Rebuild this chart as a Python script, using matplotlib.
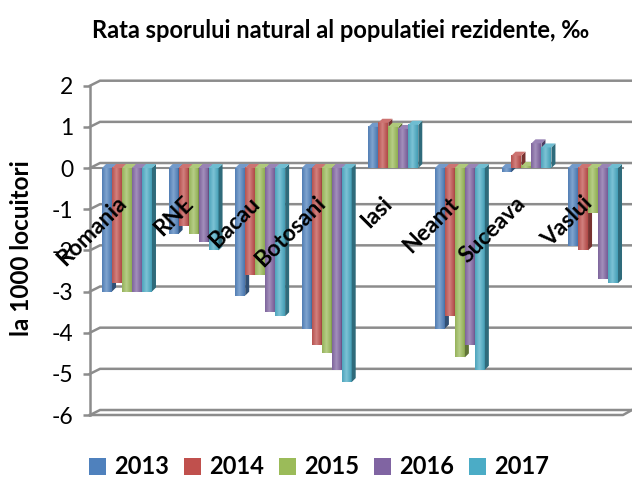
import numpy as np
import matplotlib
matplotlib.use("Agg")
import matplotlib.pyplot as plt
from matplotlib.patches import Polygon, Patch
from matplotlib.colors import to_rgb

plt.rcParams['font.family'] = ['Lato', 'DejaVu Sans']

title = "Rata sporului natural al populatiei rezidente, ‰"
ylabel = "la 1000 locuitori"
categories = ["Romania", "RNE", "Bacau", "Botosani", "Iasi", "Neamt", "Suceava", "Vaslui"]
years = ["2013", "2014", "2015", "2016", "2017"]
v2013 = [-3.0, -1.6, -3.1, -3.9, 1.0, -3.9, -0.1, -1.9]
v2014 = [-2.8, -1.4, -2.6, -4.3, 1.1, -3.6, 0.3, -2.0]
v2015 = [-3.0, -1.6, -2.6, -4.5, 1.0, -4.6, 0.05, -1.1]
v2016 = [-3.0, -1.8, -3.5, -4.9, 0.95, -4.3, 0.6, -2.7]
v2017 = [-3.0, -2.0, -3.6, -5.2, 1.05, -4.9, 0.5, -2.8]
series = [v2013, v2014, v2015, v2016, v2017]
colors = ["#4F81BD", "#C0504D", "#9BBB59", "#8064A2", "#4BACC6"]
yticks = [2, 1, 0, -1, -2, -3, -4, -5, -6]

W, H = 632, 482
fig = plt.figure(figsize=(W / 100, H / 100), dpi=100)
px_left, px_right, px_top, px_bot = 90, 623, 85.7, 415
ax = fig.add_axes([px_left / W, 1 - px_bot / H, (px_right - px_left) / W, (px_bot - px_top) / H])

xl, xr = -0.556, 7.45
yb, yt = -6, 2
ppx = (px_right - px_left) / (xr - xl)
ppy = (px_bot - px_top) / (yt - yb)

grid_c = "#8c8c8c"
gdx, gdy = 10 / ppx, 5 / ppy
x_far = xr + 9 / ppx
for t in yticks:
    ax.plot([xl, xl + gdx, x_far], [t, t + gdy, t + gdy], color=grid_c, lw=1.8,
            zorder=1, clip_on=False, solid_joinstyle='miter')
ax.plot([xl, xr, x_far], [yb, yb, yb + gdy], color=grid_c, lw=1.8, zorder=1, clip_on=False)
ax.plot([xl, xr], [0, 0], color=grid_c, lw=1.5, zorder=2, clip_on=False)

bw = 0.15
bdx, bdy = 4 / ppx, 4 / ppy

def shade(c, f):
    r = np.array(to_rgb(c))
    return tuple(np.clip(r * f, 0, 1))

def lighten(c, f):
    r = np.array(to_rgb(c))
    return tuple(r + (1 - r) * f)

z = 3
for i in range(len(categories)):
    for j, vals in enumerate(series):
        v = vals[i]
        x0 = i + (j - 2) * bw - bw / 2
        x1 = x0 + bw
        lo, hi = min(0, v), max(0, v)
        base = colors[j]
        n = 32
        t = np.linspace(0, 1, n)
        prof = 1 - np.abs(t - 0.45) / 0.55
        img = np.zeros((1, n, 3))
        for k in range(n):
            img[0, k] = np.array(lighten(base, 0.28 * prof[k])) * (0.92 + 0.08 * prof[k])
        ax.imshow(img, extent=(x0, x1, lo, hi), aspect='auto', zorder=z, interpolation='bilinear')
        side = Polygon([(x1, lo), (x1, hi), (x1 + bdx, hi + bdy), (x1 + bdx, lo + bdy)],
                       closed=True, facecolor=shade(base, 0.62), edgecolor='none', zorder=z)
        ax.add_patch(side)
        top = Polygon([(x0, hi), (x1, hi), (x1 + bdx, hi + bdy), (x0 + bdx, hi + bdy)],
                      closed=True, facecolor=lighten(base, 0.2), edgecolor='none', zorder=z)
        ax.add_patch(top)
        z += 1

for i, c in enumerate(categories):
    ax.text(i + 0.05, -0.6, c, rotation=45, ha='right', va='top', fontsize=16.5,
            fontweight='bold', zorder=200)

ax.set_xlim(xl, xr)
ax.set_ylim(yb, yt)
for s in ['top', 'right', 'bottom']:
    ax.spines[s].set_visible(False)
ax.spines['left'].set_color(grid_c)
ax.spines['left'].set_linewidth(1.8)
ax.set_xticks([])
ax.set_yticks(yticks)
ax.set_yticklabels([str(t) for t in yticks], fontsize=16.5)
ax.tick_params(axis='y', length=5, width=1.8, color=grid_c, pad=7)
ax.set_facecolor('none')

fig.text(341 / W, 1 - 30 / H, title, ha='center', va='center', fontsize=17, fontweight='bold')
fig.text(22 / W, 1 - 248 / H, ylabel, ha='center', va='center', rotation=90, fontsize=17.5,
         fontweight='bold')

handles = [Patch(facecolor=c, edgecolor='none') for c in colors]
fig.legend(handles, years, loc='center', bbox_to_anchor=(319 / W, 1 - 467 / H), ncol=5,
           frameon=False, prop={'weight': 'bold', 'size': 17}, handlelength=0.7,
           handleheight=0.7, handletextpad=0.35, columnspacing=0.65)

fig.savefig("out.png", dpi=100)
